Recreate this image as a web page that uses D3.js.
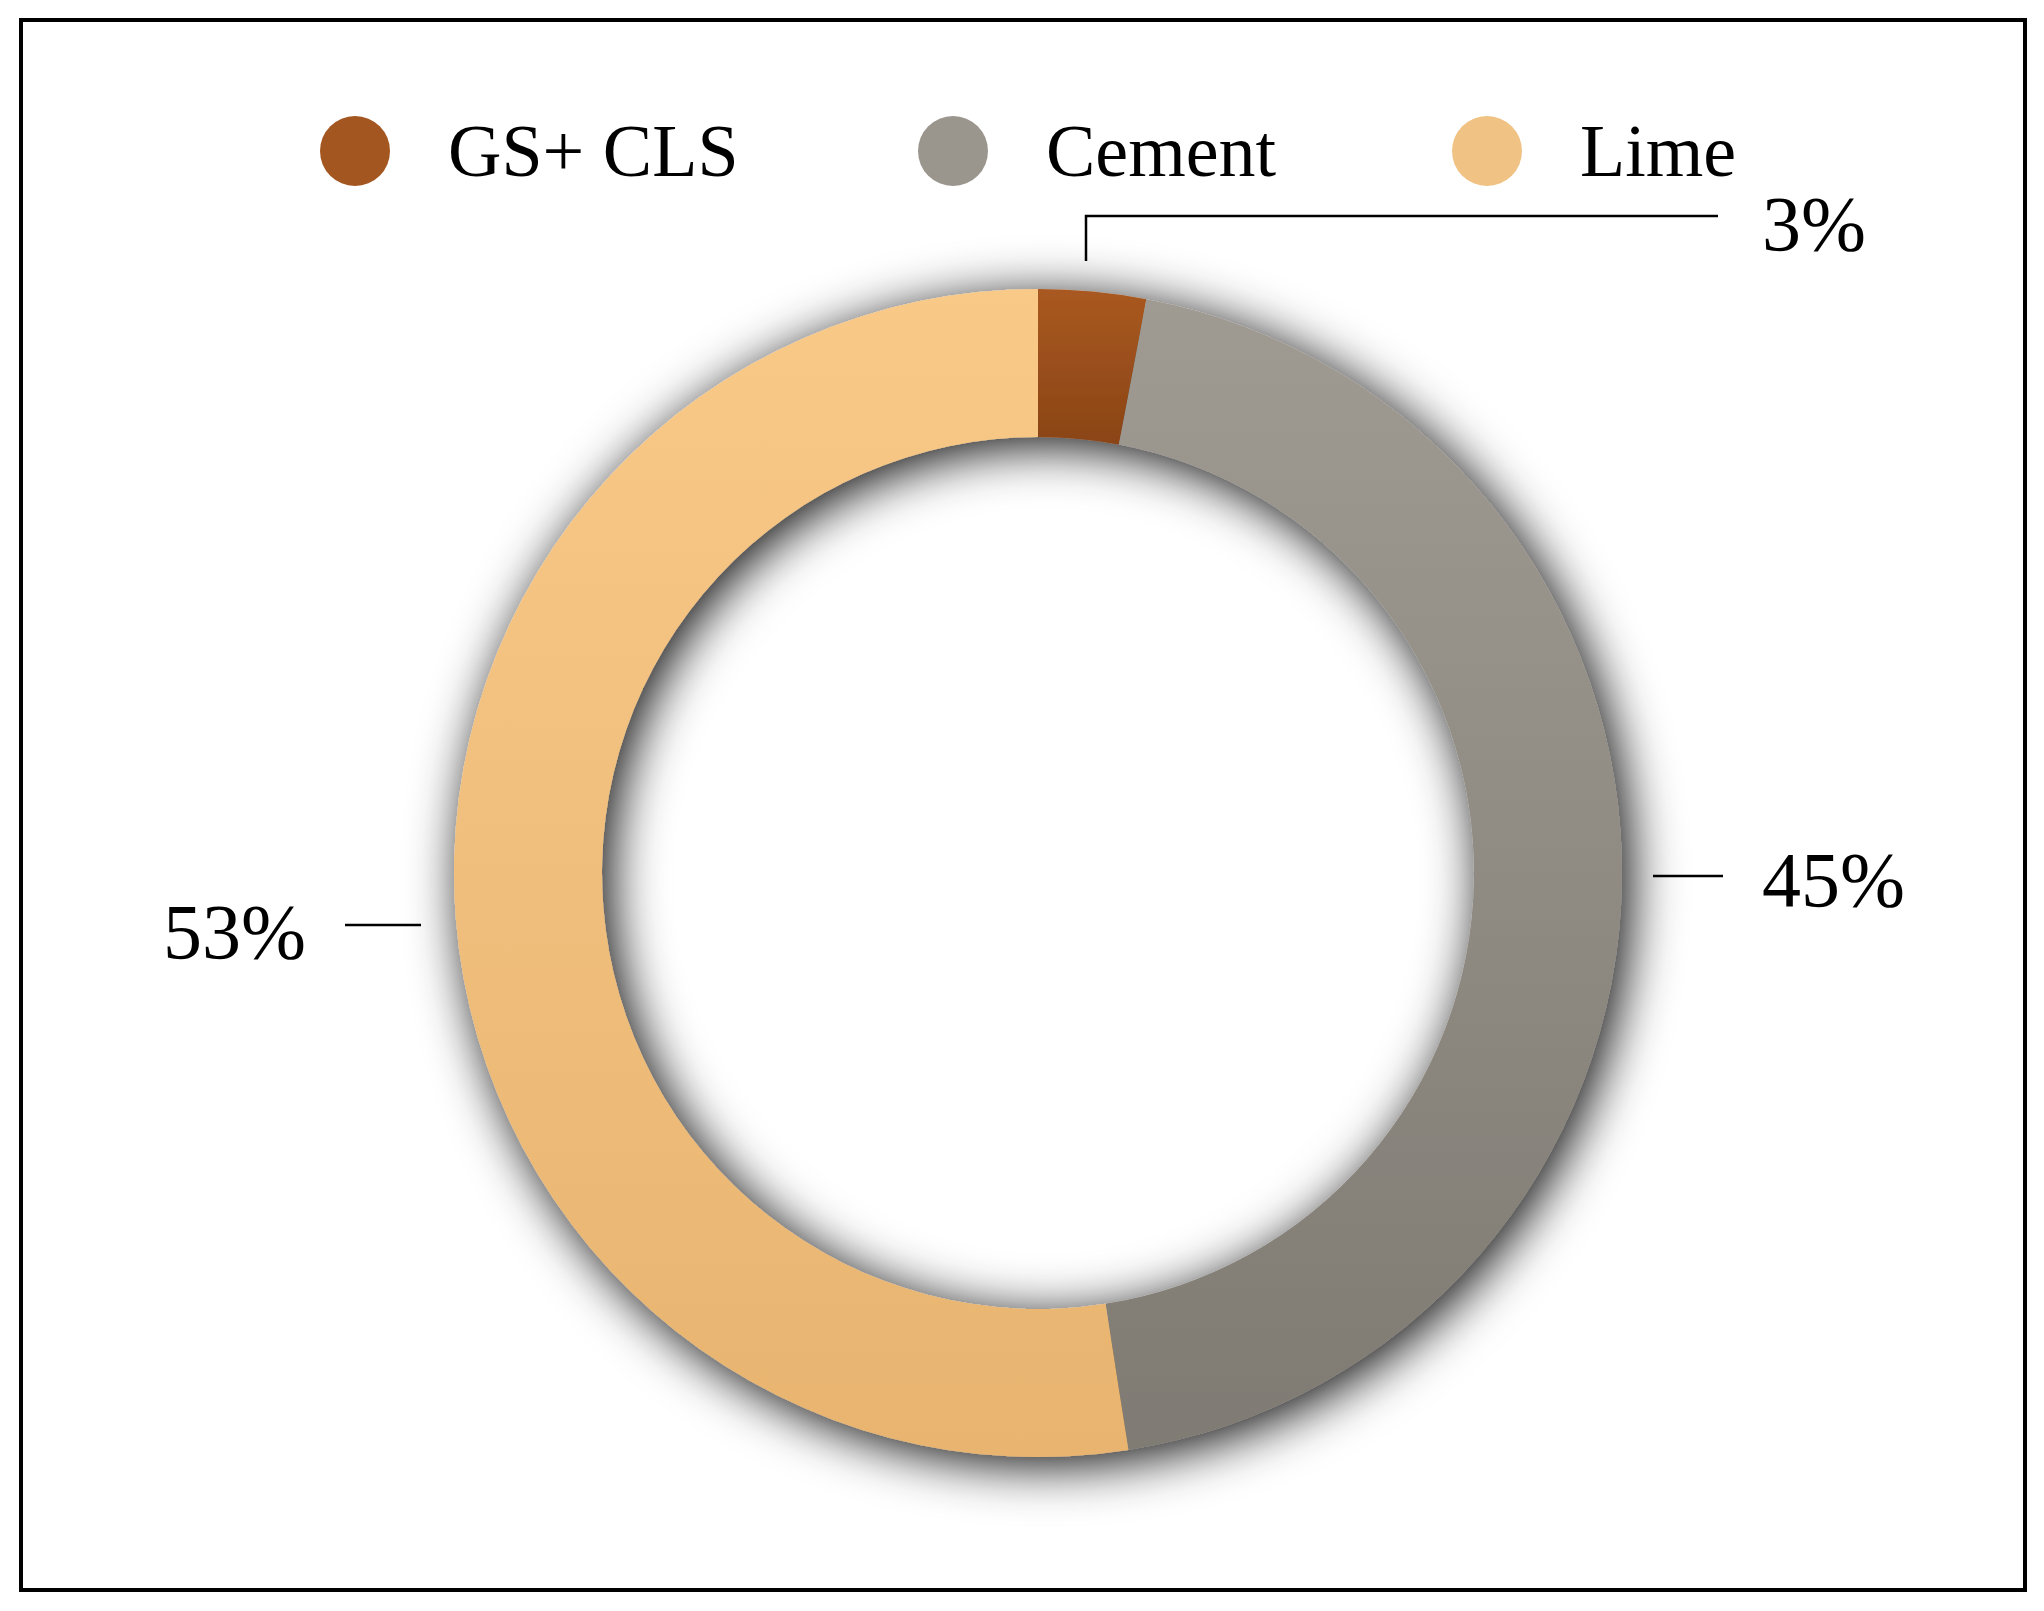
<!DOCTYPE html>
<html><head><meta charset="utf-8">
<script src="https://cdn.jsdelivr.net/npm/d3@7"></script>
<style>body{margin:0;background:#fff}</style>
</head><body>
<svg id="chart" width="2044" height="1611"></svg>
<script>
let categories = ["GS+ CLS", "Cement", "Lime"];
let values = [3, 45, 53];
let labels = ["3%", "45%", "53%"];
let colors = ["#a3561f", "#9a968d", "#f0c283"];
let darkColors = ["#8a4416", "#7f7b73", "#e8b470"];

let svg = d3.select("#chart");
let defs = svg.append("defs");

// drop shadow for the ring
let f = defs.append("filter").attr("id", "shadow")
  .attr("x", "-20%").attr("y", "-20%").attr("width", "140%").attr("height", "140%");
f.append("feDropShadow").attr("dx", 8).attr("dy", 8)
  .attr("stdDeviation", 26).attr("flood-color", "#000").attr("flood-opacity", 0.95);

colors.forEach((c, i) => {
  let g = defs.append("linearGradient").attr("id", "g" + i)
    .attr("x1", "0").attr("y1", "0").attr("x2", "0").attr("y2", "1");
  g.append("stop").attr("offset", "0%").attr("stop-color", d3.color(c).brighter(0.1));
  g.append("stop").attr("offset", "100%").attr("stop-color", darkColors[i]);
});

// frame
svg.append("rect").attr("x", 21).attr("y", 20).attr("width", 2004).attr("height", 1570)
  .attr("fill", "none").attr("stroke", "#000").attr("stroke-width", 4);

let cx = 1038, cy = 873;
let pie = d3.pie().sort(null).value(d => d);
let arc = d3.arc().innerRadius(436).outerRadius(584);

svg.append("g").attr("transform", `translate(${cx},${cy})`)
  .attr("filter", "url(#shadow)")
  .selectAll("path").data(pie(values)).join("path")
  .attr("d", arc)
  .attr("fill", (d, i) => `url(#g${i})`);

// legend
let legX = [355, 953, 1487];
let leg = svg.append("g");
categories.forEach((c, i) => {
  leg.append("circle").attr("cx", legX[i]).attr("cy", 151).attr("r", 35).attr("fill", colors[i]);
  leg.append("text").attr("x", legX[i] + 93).attr("y", 176)
    .attr("font-family", "Liberation Serif, serif").attr("font-size", 74)
    .text(c);
});

// leader lines and labels
let lines = [
  [[1086, 261], [1086, 216], [1718, 216]],
  [[1653, 876], [1723, 876]],
  [[421, 925], [345, 925]]
];
let labelPos = [[1762, 250, "start"], [1762, 906, "start"], [306, 958, "end"]];
lines.forEach(pts => {
  svg.append("path").attr("d", d3.line()(pts))
    .attr("fill", "none").attr("stroke", "#000").attr("stroke-width", 2.5);
});
labels.forEach((t, i) => {
  svg.append("text").attr("x", labelPos[i][0]).attr("y", labelPos[i][1])
    .attr("text-anchor", labelPos[i][2])
    .attr("font-family", "Liberation Serif, serif").attr("font-size", 78)
    .text(t);
});
</script>
</body></html>
